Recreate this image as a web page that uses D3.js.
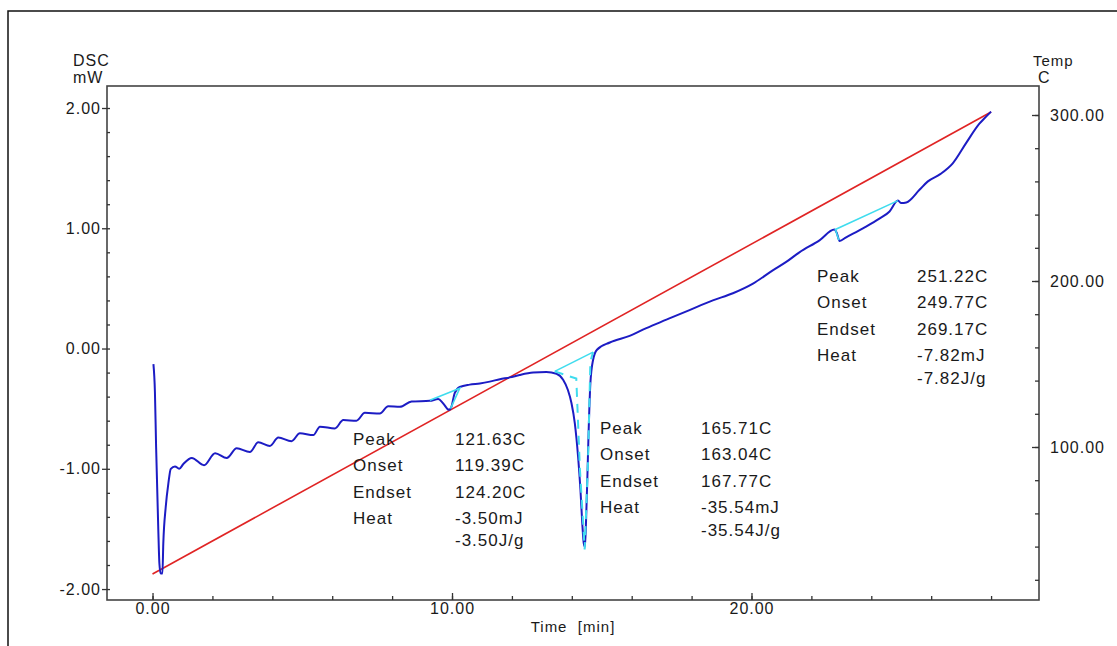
<!DOCTYPE html>
<html>
<head>
<meta charset="utf-8">
<script src="https://cdn.jsdelivr.net/npm/d3@7"></script>
<style>
  body { margin: 0; background: #fff; }
  svg text { font-family: "Liberation Sans", Arial, sans-serif; fill: #1a1a1a; }
  .tick text { letter-spacing: 1px; }
  .ann { font-size: 17px; letter-spacing: 1px; }
</style>
</head>
<body>
<div id="chart"></div>
<script>
// DSC signal (time min, mW)
const dscCurve = [
  [0.03,-0.13],[0.08,-0.36],[0.12,-0.82],[0.19,-1.48],[0.23,-1.79],[0.27,-1.87],[0.33,-1.87],
  [0.36,-1.62],[0.44,-1.32],[0.53,-1.12],[0.61,-1.00],[0.75,-0.98],[0.89,-1.00],[1.03,-0.96],
  [1.31,-0.91],[1.72,-0.97],[2.09,-0.87],[2.48,-0.91],[2.81,-0.83],[3.25,-0.86],[3.53,-0.78],
  [3.92,-0.81],[4.20,-0.74],[4.64,-0.77],[4.92,-0.705],[5.37,-0.72],[5.59,-0.65],[6.09,-0.665],
  [6.37,-0.595],[6.81,-0.60],[7.09,-0.535],[7.59,-0.54],[7.87,-0.48],[8.26,-0.485],[8.65,-0.44],
  [9.26,-0.435],[9.54,-0.42],[9.70,-0.455],[9.90,-0.51],[9.98,-0.485],[10.09,-0.37],[10.26,-0.32],
  [10.59,-0.30],[10.93,-0.29],[11.26,-0.275],[11.6,-0.255],[11.93,-0.24],[12.26,-0.22],[12.71,-0.20],
  [13.15,-0.195],[13.49,-0.21],[13.71,-0.26],[13.87,-0.345],[13.99,-0.455],[14.1,-0.62],[14.21,-0.90],
  [14.29,-1.18],[14.35,-1.455],[14.40,-1.62],[14.44,-1.65],[14.48,-1.40],[14.52,-1.07],[14.56,-0.705],
  [14.62,-0.29],[14.71,-0.095],[14.84,-0.01],[15.27,0.05],[15.93,0.105],[16.49,0.17],[17.16,0.24],
  [17.93,0.32],[18.71,0.40],[19.38,0.46],[20.05,0.54],[20.71,0.65],[21.16,0.72],[21.6,0.80],
  [22.27,0.90],[22.77,0.99],[22.85,0.96],[22.94,0.895],[23.16,0.925],[23.72,1.0],[24.27,1.08],
  [24.61,1.14],[24.89,1.23],[25.0,1.21],[25.17,1.215],[25.61,1.32],[25.89,1.39],[26.3,1.45],
  [26.72,1.54],[27.17,1.71],[27.61,1.87],[27.78,1.915],[28.0,1.97]
];
// programmed temperature (time min, C)
const tempCurve = [[0, 23.5], [28, 301.8]];

// analysis baselines (time min, mW)
const baseline1 = [[9.26,-0.43],[10.26,-0.33],[9.95,-0.50]];
const baseline2 = [[13.43,-0.19],[14.71,-0.03]];
const peakLine2 = [[13.43,-0.19],[14.15,-0.25],[14.27,-1.0],[14.43,-1.67],[14.54,-0.95],[14.62,-0.11],[14.71,-0.03]];
const baseline3 = [[22.92,0.90],[22.8,0.99],[24.89,1.23]];

// peak annotations
const peakLabels = ["Peak","Onset","Endset","Heat",""];
const peak1 = ["121.63C","119.39C","124.20C","-3.50mJ","-3.50J/g"];
const peak2 = ["165.71C","163.04C","167.77C","-35.54mJ","-35.54J/g"];
const peak3 = ["251.22C","249.77C","269.17C","-7.82mJ","-7.82J/g"];

const dscMajor = [-2, -1, 0, 1, 2];
const dscMinor = d3.range(-20, 21, 2).map(d => d / 10);
const tempMajor = [100, 200, 300];
const tempMinor = d3.range(20, 301, 20);
const timeMajor = [0, 10, 20];
const timeMinor = d3.range(0, 29, 2);

const width = 1117, height = 646;
const pLeft = 107, pRight = 1039, pTop = 86, pBottom = 600;
const fmt = d => d.toFixed(2);

const svg = d3.select("#chart").append("svg").attr("width", width).attr("height", height);

// outer frame
svg.append("path").attr("d", "M8,646 L8,11 L1117,11").attr("fill", "none").attr("stroke", "#111").attr("stroke-width", 1.5);

const x = d3.scaleLinear().domain([-1.52, 29.60]).range([pLeft, pRight]);
const y = d3.scaleLinear().domain([-2.091, 2.183]).range([pBottom, pTop]);
const yT = d3.scaleLinear().domain([7.83, 317.47]).range([pBottom, pTop]);

// plot frame
svg.append("rect").attr("x", pLeft).attr("y", pTop).attr("width", pRight-pLeft).attr("height", pBottom-pTop)
   .attr("fill", "none").attr("stroke", "#444").attr("stroke-width", 1.6);

// left axis
svg.append("g").attr("transform", "translate("+pLeft+",0)")
   .call(d3.axisLeft(y).tickValues(dscMajor).tickSize(5).tickPadding(1).tickFormat(fmt));
svg.append("g").attr("transform", "translate("+pLeft+",0)")
   .call(d3.axisLeft(y).tickValues(dscMinor).tickSize(-3).tickFormat(""));
// right axis
svg.append("g").attr("transform", "translate("+pRight+",0)")
   .call(d3.axisRight(yT).tickValues(tempMajor).tickSize(-7).tickPadding(11).tickFormat(fmt));
svg.append("g").attr("transform", "translate("+pRight+",0)")
   .call(d3.axisRight(yT).tickValues(tempMinor).tickSize(-4).tickFormat(""));
// bottom axis
svg.append("g").attr("transform", "translate(0,"+pBottom+")")
   .call(d3.axisBottom(x).tickValues(timeMajor).tickSize(-7).tickPadding(3).tickFormat(fmt));
svg.append("g").attr("transform", "translate(0,"+pBottom+")")
   .call(d3.axisBottom(x).tickValues(timeMinor).tickSize(-4).tickFormat(""));

svg.selectAll(".domain").remove();
svg.selectAll(".tick line").attr("stroke", "#333").attr("stroke-width", 1.3);
svg.selectAll(".tick text").style("font-size", "16px").attr("fill", "#1a1a1a");

// axis titles
svg.append("text").attr("x", 73).attr("y", 66).style("font-size", "16px").style("letter-spacing", "1px").text("DSC");
svg.append("text").attr("x", 73).attr("y", 83).style("font-size", "16px").style("letter-spacing", "1px").text("mW");
svg.append("text").attr("x", 1033).attr("y", 66).style("font-size", "15px").style("letter-spacing", "1px").text("Temp");
svg.append("text").attr("x", 1038).attr("y", 83).style("font-size", "16px").text("C");
svg.append("text").attr("x", 573).attr("y", 632).attr("text-anchor", "middle").style("font-size", "15px")
   .style("letter-spacing", "1px").style("white-space", "pre").text("Time  [min]");

// temperature line
const lineT = d3.line().x(d => x(d[0])).y(d => yT(d[1]));
svg.append("path").datum(tempCurve).attr("d", lineT).attr("fill", "none").attr("stroke", "#e02424").attr("stroke-width", 1.6);

// DSC line
const line = d3.line().x(d => x(d[0])).y(d => y(d[1]));
const smooth = d3.line().x(d => x(d[0])).y(d => y(d[1])).curve(d3.curveMonotoneX);
svg.append("path").datum(dscCurve).attr("d", smooth).attr("fill", "none").attr("stroke", "#1c1cc4").attr("stroke-width", 2);

// baselines
[baseline1, baseline2, baseline3].forEach(b => {
  svg.append("path").datum(b).attr("d", line).attr("fill", "none").attr("stroke", "#3fdcee").attr("stroke-width", 1.6);
});
svg.append("path").datum(peakLine2).attr("d", line).attr("fill", "none").attr("stroke", "#3fdcee")
   .attr("stroke-width", 2).attr("stroke-dasharray", "9,7");

// annotations
function annotate(vals, lx, vx, y0, yv) {
  const g = svg.append("g").attr("class", "ann");
  peakLabels.forEach((t, i) => {
    if (t) g.append("text").attr("x", lx).attr("y", y0 + i*26.3).text(t);
  });
  vals.forEach((t, i) => {
    g.append("text").attr("x", vx).attr("y", i < 4 ? y0 + i*26.3 : yv).text(t);
  });
}
annotate(peak1, 353, 455, 445, 546);
annotate(peak2, 600, 701, 434, 536);
annotate(peak3, 817, 917, 282, 384);
</script>
</body>
</html>
